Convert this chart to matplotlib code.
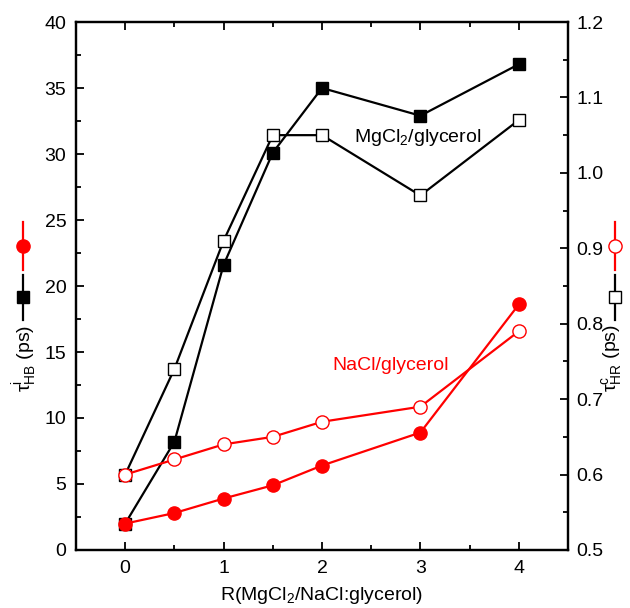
import matplotlib.pyplot as plt
from matplotlib.lines import Line2D
from matplotlib.ticker import MultipleLocator

plt.rcParams['font.family'] = ['Liberation Sans', 'DejaVu Sans']
plt.rcParams['mathtext.fontset'] = 'custom'
plt.rcParams['mathtext.rm'] = 'Liberation Sans'
plt.rcParams['mathtext.it'] = 'Liberation Sans:italic'
plt.rcParams['mathtext.bf'] = 'Liberation Sans:bold'

# R values
r = [0, 0.5, 1, 1.5, 2, 3, 4]

# left axis: tau^i_HB (ps)
mg_tau_i = [2.0, 8.2, 21.6, 30.1, 35.0, 32.9, 36.8]
na_tau_i = [2.0, 2.8, 3.9, 4.9, 6.4, 8.9, 18.6]

# right axis: tau^c_HB (ps)
mg_tau_c = [0.60, 0.74, 0.91, 1.05, 1.05, 0.97, 1.07]
na_tau_c = [0.60, 0.62, 0.64, 0.65, 0.67, 0.69, 0.79]

fig = plt.figure(figsize=(6.3, 6.08), dpi=100)
ax = fig.add_axes([0.1206, 0.0954, 0.781, 0.8684])
ax2 = ax.twinx()

lw = 1.6
ax.plot(r, mg_tau_i, color='black', lw=lw, marker='s', ms=8.5, mfc='black', mec='black')
ax.plot(r, na_tau_i, color='red', lw=lw, marker='o', ms=9.5, mfc='red', mec='red')
ax2.plot(r, mg_tau_c, color='black', lw=lw, marker='s', ms=8.5, mfc='white', mec='black', mew=1.0)
ax2.plot(r, na_tau_c, color='red', lw=lw, marker='o', ms=9.5, mfc='white', mec='red', mew=1.0)

ax.set_xlim(-0.5, 4.5)
ax.set_ylim(0, 40)
ax2.set_ylim(0.5, 1.2)

ax.xaxis.set_major_locator(MultipleLocator(1))
ax.xaxis.set_minor_locator(MultipleLocator(0.5))
ax.yaxis.set_major_locator(MultipleLocator(5))
ax.yaxis.set_minor_locator(MultipleLocator(2.5))
ax2.yaxis.set_major_locator(MultipleLocator(0.1))
ax2.yaxis.set_minor_locator(MultipleLocator(0.05))

fs = 14
ax.tick_params(which='both', direction='in', top=True, labelsize=fs, width=1.3)
ax.tick_params(which='major', length=6, pad=7)
ax.tick_params(which='minor', length=3.5)
ax.tick_params(axis='y', which='both', right=False)
ax2.tick_params(which='both', direction='in', labelsize=fs, width=1.3)
ax2.tick_params(which='major', length=6, pad=6)
ax2.tick_params(which='minor', length=3.5)
ax2.set_yticks([0.5, 0.6, 0.7, 0.8, 0.9, 1.0, 1.1, 1.2])
ax2.set_yticklabels(['0.5', '0.6', '0.7', '0.8', '0.9', '1.0', '1.1', '1.2'])

for a in (ax, ax2):
    for s in a.spines.values():
        s.set_linewidth(1.6)

ax.set_xlabel('R(MgCl$_2$/NaCl:glycerol)', fontsize=fs, labelpad=6)

ax.text(2.33, 30.9, 'MgCl$_2$/glycerol', fontsize=fs, color='black')
ax.text(2.11, 13.6, 'NaCl/glycerol', fontsize=fs, color='red')

# y labels with symbol keys
fig.text(25 / 630, 1 - 358 / 608, r'$\mathrm{\tau^{i}_{HB}}$ (ps)', rotation=90,
         ha='center', va='center', fontsize=fs)
fig.text(612 / 630, 1 - 358 / 608, r'$\mathrm{\tau^{c}_{HR}}$ (ps)', rotation=90,
         ha='center', va='center', fontsize=fs)


def key(x, y0, y1, color, marker, ms, mfc):
    fx = x / 630
    fig.add_artist(Line2D([fx, fx], [1 - y0 / 608, 1 - y1 / 608], color=color, lw=lw,
                          transform=fig.transFigure))
    fig.add_artist(Line2D([fx], [1 - (y0 + y1) / 2 / 608], color=color, marker=marker, ms=ms,
                          mfc=mfc, mec=color, mew=1.0, transform=fig.transFigure))


key(23, 222, 270, 'red', 'o', 9.5, 'red')
key(23, 275, 320, 'black', 's', 8.5, 'black')
key(615, 222, 270, 'red', 'o', 9.5, 'white')
key(615, 275, 320, 'black', 's', 8.5, 'white')

fig.savefig('out.png', dpi=100)
